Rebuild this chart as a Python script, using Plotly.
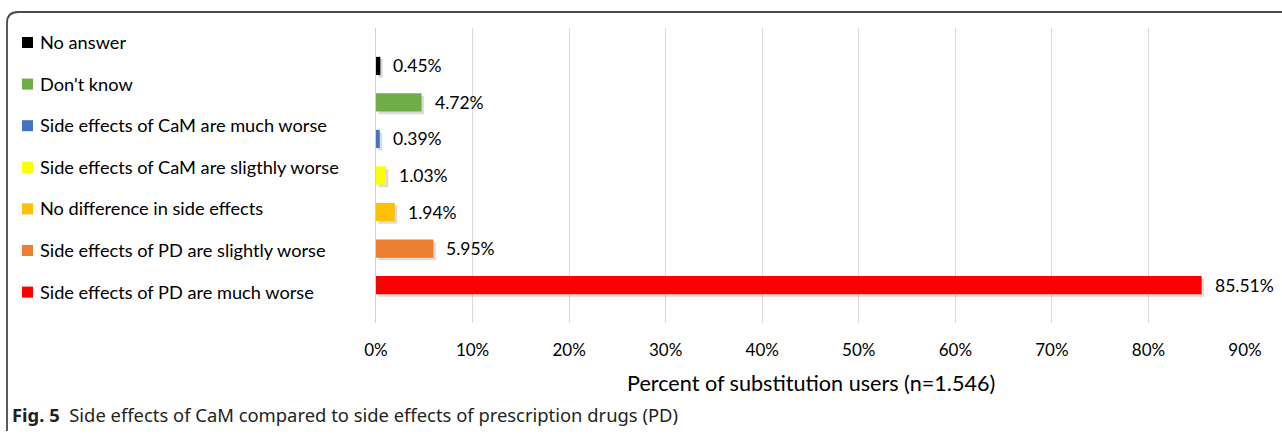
import plotly.graph_objects as go

# Data (top to bottom as shown)
categories = [
    "No answer",
    "Don't know",
    "Side effects of CaM are much worse",
    "Side effects of CaM are sligthly worse",
    "No difference in side effects",
    "Side effects of PD are slightly worse",
    "Side effects of PD are much worse",
]
values = [0.45, 4.72, 0.39, 1.03, 1.94, 5.95, 85.51]
colors = ["#000000", "#70ad47", "#4472c4", "#ffff00", "#ffc000", "#ed7d31", "#ff0000"]
tick_vals = [0, 10, 20, 30, 40, 50, 60, 70, 80, 90]
tick_text = [f"{v}%" for v in tick_vals]
x_title = "Percent of substitution users (n=1.546)"
caption_bold = "Fig. 5"
caption_text = "Side effects of CaM compared to side effects of prescription drugs (PD)"

W, H = 1282, 435
L, R = 376, 1245       # plot area x pixel extents
T, B = 28, 323         # plot area y pixel extents

def px(x):
    return (x - L) / (R - L)

def py(y):
    return (B - y) / (B - T)

FONT = "Lato"

fig = go.Figure()
# soft drop shadow behind bars
fig.add_trace(go.Bar(
    x=values, y=categories, orientation="h", base=0.25,
    marker=dict(color="rgba(0,0,0,0.14)", line=dict(width=0)),
    width=0.5, offset=-0.25 + 0.07, showlegend=False, hoverinfo="skip",
))
fig.add_trace(go.Bar(
    x=values, y=categories, orientation="h",
    marker=dict(color=colors, line=dict(width=0)),
    width=0.5, offset=-0.25, showlegend=False, hoverinfo="x+y",
))

annotations = []
for cat, v in zip(categories, values):
    annotations.append(dict(
        x=v, y=cat, xref="x", yref="y", text=f"{v:.2f}%", showarrow=False,
        xanchor="left", yanchor="middle", xshift=11,
        font=dict(family=FONT, size=17.5, color="#000000"),
    ))

shapes = []
# Legend (left)
leg_top, leg_step = 42, 41.6
for i, (cat, col) in enumerate(zip(categories, colors)):
    yc = leg_top + i * leg_step
    shapes.append(dict(type="rect", xref="paper", yref="paper",
                       x0=px(22), x1=px(33), y0=py(yc - 5), y1=py(yc + 6),
                       fillcolor=col, line=dict(width=0)))
    annotations.append(dict(
        x=px(38), y=py(yc), xref="paper", yref="paper", text=cat, showarrow=False,
        xanchor="left", yanchor="middle",
        font=dict(family=FONT, size=18.2, color="#000000"),
    ))

# Axis title
annotations.append(dict(
    x=0.5, y=py(383), xref="paper", yref="paper", text=x_title, showarrow=False,
    xanchor="center", yanchor="middle",
    font=dict(family=FONT, size=21.6, color="#000000"),
))
# Caption
annotations.append(dict(
    x=px(10), y=py(414), xref="paper", yref="paper",
    text=f"<b>{caption_bold}</b>  <span style='color:#231f20'>{caption_text}</span>",
    showarrow=False, xanchor="left", yanchor="middle",
    font=dict(family="Noto Sans", size=18.4, color="#231f20"),
))

# Rounded frame (top + left)
x7, x17, xr = px(7), px(18), px(W + 5)
y12, y22, yb = py(12), py(23), py(431)
shapes.append(dict(
    type="path", xref="paper", yref="paper",
    path=f"M {x7},{yb} L {x7},{y22} Q {x7},{y12} {x17},{y12} L {xr},{y12}",
    line=dict(color="#4a4a4a", width=1.8),
))

fig.update_layout(
    width=W, height=H,
    margin=dict(l=L, r=W - R, t=T, b=H - B, pad=0),
    paper_bgcolor="white", plot_bgcolor="white",
    barmode="overlay",
    xaxis=dict(range=[0, 90], tickvals=tick_vals, ticktext=tick_text,
               showgrid=True, gridcolor="#d9d9d9", gridwidth=1,
               zeroline=False, showline=False, ticks="", ticklen=0,
               ticklabelstandoff=15,
               tickfont=dict(family=FONT, size=17, color="#000000"),
               fixedrange=True),
    yaxis=dict(categoryorder="array", categoryarray=categories,
               range=[len(categories) - 1 + 1.04, -1.04],
               showticklabels=False, showgrid=False, zeroline=False,
               showline=True, linecolor="#d0d0d0", linewidth=1, ticks=""),
    annotations=annotations, shapes=shapes,
    font=dict(family=FONT),
)
fig.write_html("out.html")
